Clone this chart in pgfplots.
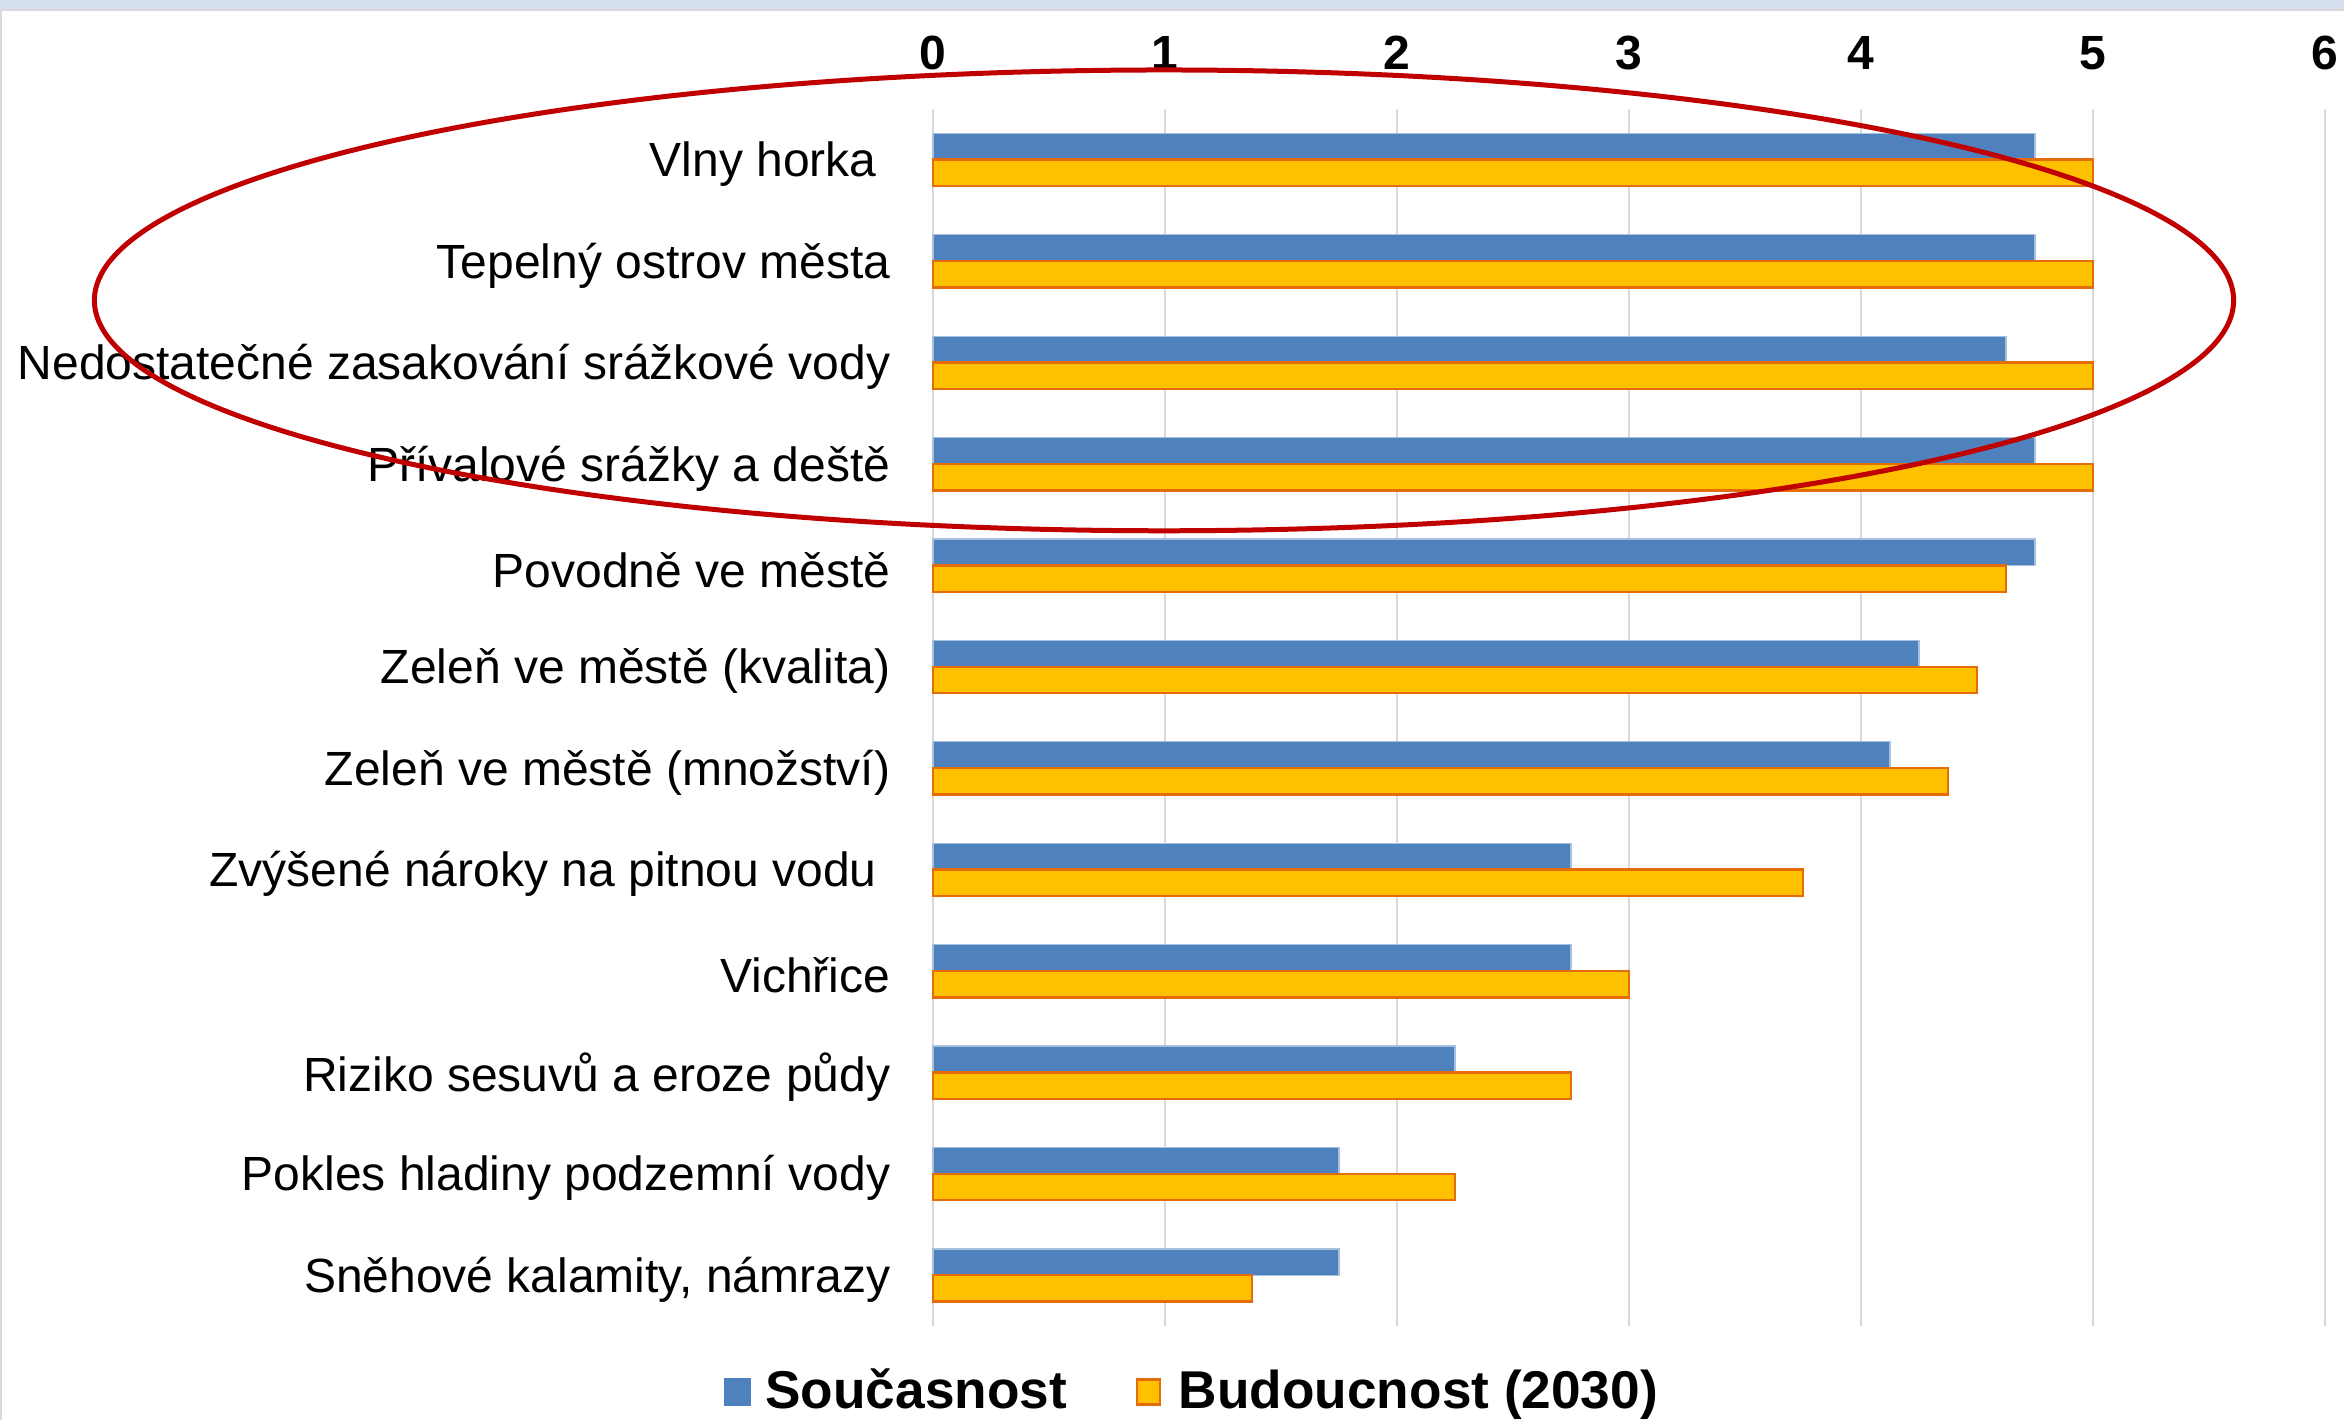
\documentclass[border=0pt]{standalone}
\usepackage{pgfplots}
\usepackage{pgfplotstable}
\pgfplotsset{compat=1.18}
\usepackage{fontspec}
\setmainfont{Liberation Sans}
\definecolor{cblue}{HTML}{4F81BD}
\definecolor{cbedge}{HTML}{A7C0DE}
\definecolor{corange}{HTML}{FFC000}
\definecolor{coedge}{HTML}{E46C0A}
\definecolor{cred}{HTML}{C00000}
\definecolor{cband}{HTML}{D5DEEC}
\definecolor{cgrid}{HTML}{D9D9D9}
\pgfplotstableread{
y now fut
0 4.75 5
1 4.75 5
2 4.625 5
3 4.75 5
4 4.75 4.625
5 4.25 4.5
6 4.125 4.375
7 2.75 3.75
8 2.75 3
9 2.25 2.75
10 1.75 2.25
11 1.75 1.375
}\data
\begin{document}
\begin{tikzpicture}
\useasboundingbox (0pt,0pt) rectangle (586pt,355pt);
\fill[white] (0pt,0pt) rectangle (586pt,355pt);
\fill[cband] (0pt,352.75pt) rectangle (586pt,355pt);
\fill[cgrid] (0pt,352.25pt) rectangle (586pt,352.75pt);
\fill[cgrid] (0pt,0pt) rectangle (0.5pt,352.25pt);
\begin{axis}[
  at={(233.25pt,23.5pt)}, anchor=south west,
  width=348pt, height=304.25pt, scale only axis,
  xbar,
  xmin=0, xmax=6, ymin=-0.5, ymax=11.5,
  y dir=reverse,
  axis line style={draw=none},
  major tick length=0pt,
  xmajorgrids, major grid style={cgrid, line width=0.5pt},
  xtick={0,1,2,3,4,5,6},
  xticklabels={0,1,2,3,4,5,6},
  xticklabel pos=upper,
  xticklabel style={font=\bfseries\fontsize{12}{12}\selectfont, anchor=base, inner sep=0pt, yshift=9.75pt},
  ytick={0,...,11},
  yticklabels={Vlny horka\rule{3.4pt}{0pt},Tepelný ostrov města,Nedostatečné zasakování srážkové vody,Přívalové srážky a deště,Povodně ve městě,Zeleň ve městě (kvalita),Zeleň ve městě (množství),Zvýšené nároky na pitnou vodu\rule{3.4pt}{0pt},Vichřice,Riziko sesuvů a eroze půdy,Pokles hladiny podzemní vody,{Sněhové kalamity, námrazy}},
  yticklabel style={font=\fontsize{12}{12}\selectfont, anchor=east, inner sep=0pt, xshift=-10.5pt, yshift=-1.1pt},
  legend columns=2,
  legend style={at={(0.1884,-0.0542)}, anchor=center, draw=none, fill=none, inner sep=0pt,
    font=\bfseries\fontsize{13.3}{14}\selectfont,
    /tikz/every even column/.append style={column sep=15pt},
    nodes={inner sep=2.2pt}},
  clip=false,
]
\addplot[fill=cblue, draw=cbedge, line width=0.3pt, bar width=0.26, bar shift=-0.13,
  legend image code/.code={\fill[cblue] (0pt,-3.3pt) rectangle (6.4pt,3.3pt);}]
  table[x=now,y=y]{\data};
\addlegendentry{\hspace{1.5pt}Současnost}
\addplot[fill=corange, draw=coedge, line width=0.6pt, bar width=0.26, bar shift=0.13,
  legend image code/.code={\draw[fill=corange, draw=coedge, line width=0.6pt] (0.3pt,-3.1pt) rectangle (6.1pt,3.1pt);}]
  table[x=fut,y=y]{\data};
\addlegendentry{\hspace{2.2pt}Budoucnost (2030)}
\end{axis}
\draw[cred, line width=1.25pt] (291pt,279.9pt) ellipse [x radius=267.4pt, y radius=57.6pt];
\end{tikzpicture}
\end{document}
